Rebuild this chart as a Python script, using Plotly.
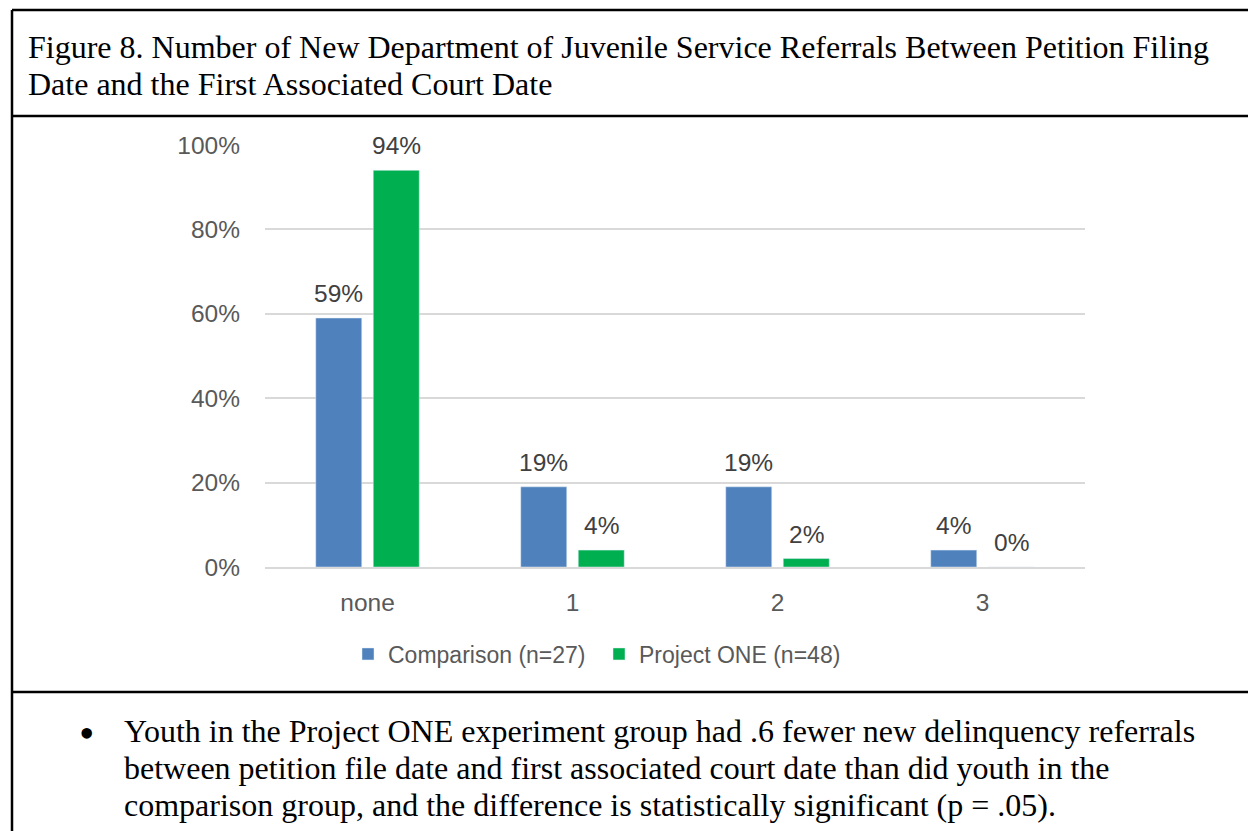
import plotly.graph_objects as go

# Data
categories = ["none", "1", "2", "3"]
comparison = [59, 19, 19, 4]
project_one = [94, 4, 2, 0]
series_names = ["Comparison (n=27)", "Project ONE (n=48)"]
y_ticks = [0, 20, 40, 60, 80, 100]
y_tick_labels = ["0%", "20%", "40%", "60%", "80%", "100%"]

title_lines = [
    "Figure 8. Number of New Department of Juvenile Service Referrals Between Petition Filing",
    "Date and the First Associated Court Date",
]
bullet_lines = [
    "Youth in the Project ONE experiment group had .6 fewer new delinquency referrals",
    "between petition file date and first associated court date than did youth in the",
    "comparison group, and the difference is statistically significant (p = .05).",
]

W, H = 1248, 831
L, R, T, B = 265, 163, 145, 264
PW, PH = W - L - R, H - T - B

def px(x):
    return (x - L) / PW

def py(y):
    return (H - B - y) / PH

BLUE = "#4F81BD"
GREEN = "#00B050"
SANS = "Liberation Sans, Arial, sans-serif"
SERIF = "Liberation Serif, Times New Roman, serif"

x_idx = list(range(len(categories)))

fig = go.Figure()
fig.add_trace(go.Bar(x=x_idx, y=comparison, name=series_names[0], marker_color=BLUE))
fig.add_trace(go.Bar(x=x_idx, y=project_one, name=series_names[1], marker_color=GREEN))

annotations = []
offset = 0.14
for vals, d in ((comparison, -offset), (project_one, offset)):
    for i, v in enumerate(vals):
        annotations.append(dict(
            x=i + d, y=v, xref="x", yref="y", text=f"{v}%", showarrow=False,
            yanchor="bottom", yshift=9,
            font=dict(family=SANS, size=24.5, color="#404040"),
        ))

for k, line in enumerate(title_lines):
    annotations.append(dict(
        x=px(26), y=py(47 + 37 * k), xref="paper", yref="paper", text=line,
        showarrow=False, xanchor="left", yanchor="middle",
        font=dict(family=SERIF, size=32, color="#000000"),
    ))

annotations.append(dict(
    x=px(77), y=py(733), xref="paper", yref="paper", text="\u2022",
    showarrow=False, xanchor="left", yanchor="middle",
    font=dict(family=SERIF, size=44, color="#000000"),
))
for k, line in enumerate(bullet_lines):
    annotations.append(dict(
        x=px(122), y=py(731 + 37 * k), xref="paper", yref="paper", text=line,
        showarrow=False, xanchor="left", yanchor="middle",
        font=dict(family=SERIF, size=32, color="#000000"),
    ))

line_style = dict(color="#000000", width=2.5)
shapes = [
    dict(type="line", xref="paper", yref="paper", x0=px(12), x1=px(W + 10), y0=py(10), y1=py(10), line=line_style),
    dict(type="line", xref="paper", yref="paper", x0=px(12), x1=px(12), y0=py(10), y1=py(H + 10), line=line_style),
    dict(type="line", xref="paper", yref="paper", x0=px(12), x1=px(W + 10), y0=py(116), y1=py(116), line=line_style),
    dict(type="line", xref="paper", yref="paper", x0=px(12), x1=px(W + 10), y0=py(692), y1=py(692), line=line_style),
]

fig.update_layout(
    width=W, height=H,
    margin=dict(l=L, r=R, t=T, b=B, pad=0),
    paper_bgcolor="white", plot_bgcolor="white",
    barmode="group", bargap=0.439, bargroupgap=0.2,
    font=dict(family=SANS, size=24.5, color="#595959"),
    showlegend=True,
    legend=dict(
        orientation="h", x=px(348), y=py(654), xanchor="left", yanchor="middle",
        font=dict(family=SANS, size=23, color="#595959"),
        bgcolor="rgba(0,0,0,0)", itemwidth=30, traceorder="normal",
        entrywidth=206,
    ),
    annotations=annotations,
    shapes=shapes,
    xaxis=dict(
        range=[-0.5, 3.5], tickvals=x_idx, ticktext=categories,
        showgrid=False, zeroline=False, showline=True, linecolor="#d9d9d9", linewidth=1.5,
        ticks="", ticklabelstandoff=13, fixedrange=True,
    ),
    yaxis=dict(
        range=[0, 100], tickvals=y_ticks, ticktext=y_tick_labels,
        showgrid=True, gridcolor="#d9d9d9", gridwidth=1.5, zeroline=False,
        showline=False, ticks="", ticklabelstandoff=24, fixedrange=True,
    ),
)

fig.write_html("out.html")
